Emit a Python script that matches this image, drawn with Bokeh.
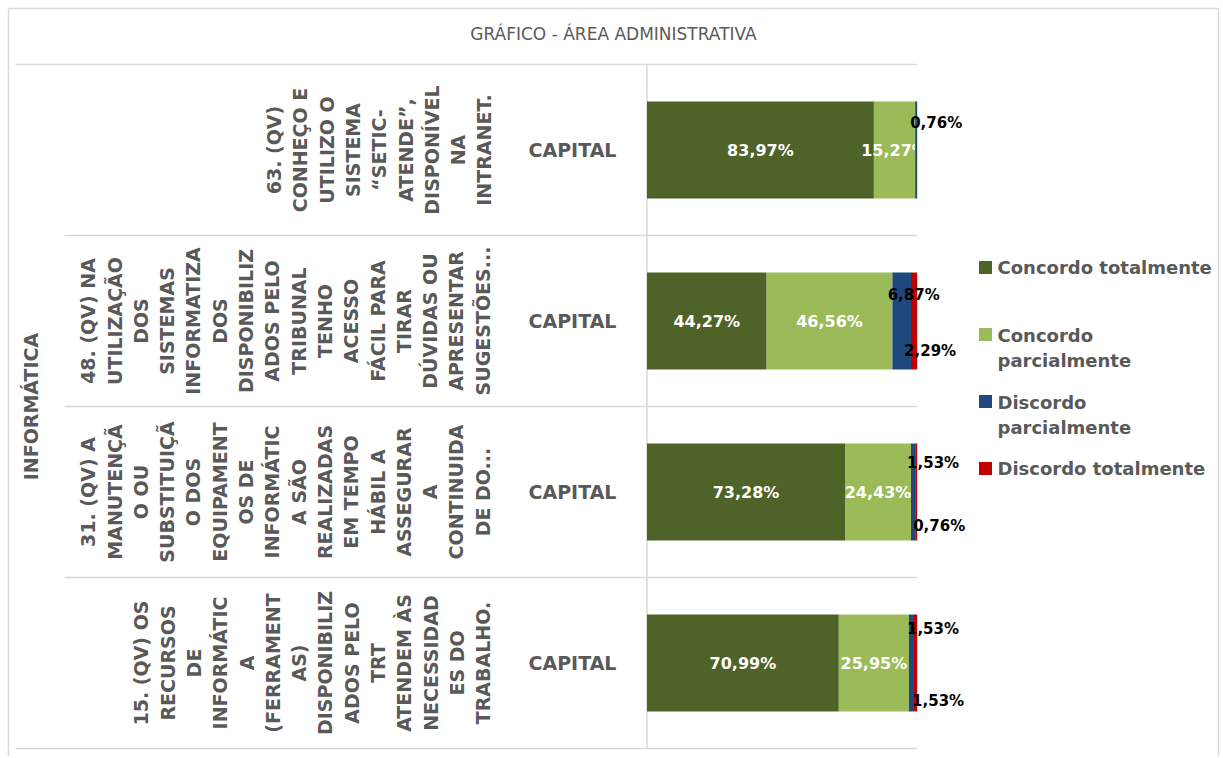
import numpy as np
from bokeh.plotting import figure
from bokeh.models import Range1d
from bokeh.core.properties import value
from bokeh.embed import file_html
from bokeh.resources import INLINE

# ---------------- data ----------------
title = "GRÁFICO - ÁREA ADMINISTRATIVA"
group_label = "INFORMÁTICA"
location_label = "CAPITAL"
questions = [
    "63. (QV)\nCONHEÇO E\nUTILIZO O\nSISTEMA\n“SETIC-\nATENDE”,\nDISPONÍVEL\nNA\nINTRANET.",
    "48. (QV) NA\nUTILIZAÇÃO\nDOS\nSISTEMAS\nINFORMATIZA\nDOS\nDISPONIBILIZ\nADOS PELO\nTRIBUNAL\nTENHO\nACESSO\nFÁCIL PARA\nTIRAR\nDÚVIDAS OU\nAPRESENTAR\nSUGESTÕES...",
    "31. (QV) A\nMANUTENÇÃ\nO OU\nSUBSTITUIÇÃ\nO DOS\nEQUIPAMENT\nOS DE\nINFORMÁTIC\nA SÃO\nREALIZADAS\nEM TEMPO\nHÁBIL A\nASSEGURAR\nA\nCONTINUIDA\nDE DO...",
    "15. (QV) OS\nRECURSOS\nDE\nINFORMÁTIC\nA\n(FERRAMENT\nAS)\nDISPONIBILIZ\nADOS PELO\nTRT\nATENDEM ÀS\nNECESSIDAD\nES DO\nTRABALHO.",
]
series_names = ["Concordo totalmente", "Concordo parcialmente",
                "Discordo parcialmente", "Discordo totalmente"]
concordo_totalmente = [83.97, 44.27, 73.28, 70.99]
concordo_parcialmente = [15.27, 46.56, 24.43, 25.95]
discordo_parcialmente = [0.76, 6.87, 1.53, 1.53]
discordo_totalmente = [0.00, 2.29, 0.76, 1.53]

# ---------------- styles / layout ----------------
colors = ["#4F6228", "#9BBB59", "#1F497D", "#C00000"]
grey_text = "#595959"
line_col = "#d9d9d9"
FONT = value("DejaVu Sans")

PX_X = 2.702   # screen px per percent
X0 = 646.5     # page x of 0 %
PX_Y = 171.0   # screen px per category row
Y0 = 149.5     # page y of first row centre
METRIC = 1.18  # font-height factor used by bokeh for line spacing


def X(px):
    return (px - X0) / PX_X


def Y(py):
    return (py - Y0) / PX_Y


W, H = 1221, 756
p = figure(width=W, height=H,
           x_range=Range1d(X(0), X(W)),
           y_range=Range1d(Y(H), Y(0)),
           x_axis_type=None, y_axis_type=None,
           toolbar_location=None, output_backend="svg",
           min_border=0)
p.outline_line_color = None
p.background_fill_color = "white"
p.border_fill_color = "white"

# outer chart border
p.segment(x0=[X(8), X(8), X(1218)], y0=[Y(8), Y(8), Y(8)],
          x1=[X(1218), X(8), X(1218)], y1=[Y(8), Y(H + 5), Y(H + 5)],
          line_color=line_col, line_width=1.5)

rows = np.arange(len(questions))
vals = np.array([concordo_totalmente, concordo_parcialmente,
                 discordo_parcialmente, discordo_totalmente])
right = np.cumsum(vals, axis=0)
left = right - vals
BAR_H = 0.567

# grid / category separators
p.segment(x0=[X(15), X(64), X(64), X(64), X(15)],
          y0=[-0.5, 0.5, 1.5, 2.5, 3.5],
          x1=[100] * 5, y1=[-0.5, 0.5, 1.5, 2.5, 3.5],
          line_color=line_col, line_width=1.5)
p.segment(x0=[0], y0=[-0.5], x1=[0], y1=[3.5], line_color=line_col, line_width=1.5)


def fmt(v):
    return f"{v:.2f}".replace(".", ",") + "%"


# large segments
for k in (0, 1):
    p.hbar(y=rows, left=left[k], right=right[k], height=BAR_H,
           fill_color=colors[k], line_color=None)

# white labels in large segments
wx, wy, wt = [], [], []
for k in (0, 1):
    for r in rows:
        v = vals[k][r]
        wx.append((left[k][r] + right[k][r]) / 2)
        wy.append(r)
        wt.append(fmt(v))
p.text(x=wx, y=wy, text=wt, text_color="white", text_font=FONT,
       text_font_style="bold", text_font_size="16px",
       text_align="center", text_baseline="middle")

# small segments
for k in (2, 3):
    p.hbar(y=rows, left=left[k], right=right[k], height=BAR_H,
           fill_color=colors[k], line_color=None)

# black labels outside (offsets in px relative to segment centre)
label_offsets = {(0, 2): (20, -27), (1, 2): (12, -26.5), (1, 3): (16, 29.5),
                 (2, 2): (20, -29.5), (2, 3): (23, 33.5),
                 (3, 2): (22, -34), (3, 3): (23, 38)}
bx, by, bt = [], [], []
for k in (2, 3):
    for r in rows:
        v = vals[k][r]
        if v <= 0:
            continue
        dx, dy = label_offsets[(r, k)]
        bx.append((left[k][r] + right[k][r]) / 2 + dx / PX_X)
        by.append(r + dy / PX_Y)
        bt.append(fmt(v))
p.text(x=bx, y=by, text=bt, text_color="black", text_font=FONT,
       text_font_style="bold", text_font_size="15px",
       text_align="center", text_baseline="middle")

# category labels: location level
p.text(x=[X(572)] * len(rows), y=rows, text=[location_label] * len(rows),
       text_color=grey_text, text_font=FONT, text_font_style="bold",
       text_font_size="19px", text_align="center", text_baseline="middle")

# question level (rotated, wrapped)
LINE_PX = 26.8
QFS = 19
qx = [X(486 - (q.count("\n")) * LINE_PX / 2) for q in questions]
p.text(x=qx, y=rows, text=questions, angle=np.pi / 2,
       text_color=grey_text, text_font=FONT, text_font_style="bold",
       text_font_size=f"{QFS}px", text_align="center", text_baseline="middle",
       text_line_height=LINE_PX / (QFS * METRIC))

# group level
p.text(x=[X(30)], y=[(rows[0] + rows[-1]) / 2], text=[group_label], angle=np.pi / 2,
       text_color=grey_text, text_font=FONT, text_font_style="bold",
       text_font_size="19px", text_align="center", text_baseline="middle")

# title
p.text(x=[X(613)], y=[Y(33)], text=[title], text_color=grey_text,
       text_font=FONT, text_font_size="17px",
       text_align="center", text_baseline="middle")

# legend
legend_labels = ["Concordo totalmente", "Concordo\nparcialmente",
                 "Discordo\nparcialmente", "Discordo totalmente"]
leg_marker_y = [Y(267), Y(334), Y(401), Y(468)]
leg_text_y = [Y(267), Y(347.5), Y(414.5), Y(468)]
p.scatter(x=[X(985)] * 4, y=leg_marker_y, marker="square", size=13,
          fill_color=colors, line_color=None)
p.text(x=[X(997)] * 4, y=leg_text_y, text=legend_labels,
       text_color=grey_text, text_font=FONT, text_font_style="bold",
       text_font_size="18px", text_align="left", text_baseline="middle",
       text_line_height=26 / (18 * METRIC))

open("out.html", "w").write(file_html(p, INLINE))
